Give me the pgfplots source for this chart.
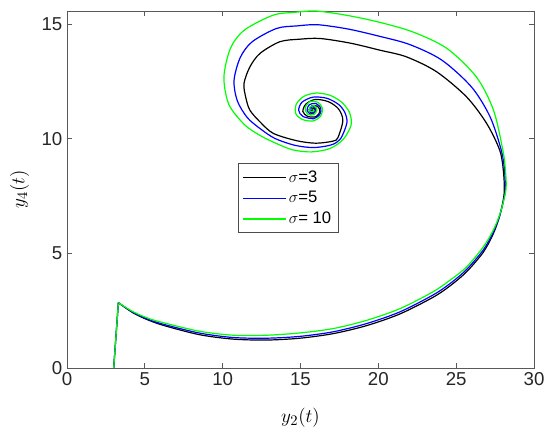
\documentclass[border=0pt]{standalone}
\usepackage{pgfplots}
\pgfplotsset{compat=1.18}
\usepackage{fontspec}
\setmainfont{Liberation Sans}
\definecolor{mgreen}{rgb}{0,1,0}
\definecolor{mblue}{rgb}{0,0,1}
\begin{document}
\begin{tikzpicture}
\begin{axis}[
  name=ax,
  scale only axis, width=350.25pt, height=267.75pt,
  xmin=0, xmax=30, ymin=0, ymax=15.58,
  xtick={0,5,10,15,20,25,30}, ytick={0,5,10,15},
  tick align=inside, major tick length=3.5pt,
  axis line style={black!65, line width=0.6pt},
  every tick/.style={black!65, line width=0.6pt},
  ticklabel style={font=\fontsize{14}{16}\selectfont, text=black!85},
  /pgf/number format/assume math mode=true,
  xlabel={$y_2(t)$}, ylabel={$y_4(t)$},
  label style={font=\fontsize{15.5}{18}\selectfont},
  x label style={at={(axis description cs:0.5,-0.14)}, anchor=center},
  y label style={at={(axis description cs:-0.1017,0.5)}, anchor=center},
  legend style={at={(0.366,0.573)}, anchor=north west, draw=black!70, line width=0.6pt,
    font=\fontsize{12.5}{15}\selectfont, row sep=1.5pt, inner xsep=3pt, inner ysep=3pt},
  legend cell align=left,
  legend image code/.code={\draw[#1] (0pt,0pt) -- (32pt,0pt);},
  every axis plot/.append style={line width=0.9pt},
]
% initial jumps
\addplot[black, forget plot] coordinates {(3.0,0) (3.3,2.85)};
\addplot[mblue, forget plot] coordinates {(3.0,0) (3.3,2.85)};
\addplot[mgreen, forget plot] coordinates {(3.0,0) (3.3,2.85)};
% black sigma=3
\addplot[black, smooth] coordinates {
(3.3,2.85) (4.26,2.4) (5.3,2.07) (6.4,1.82) (8.54,1.45) (10.68,1.26) (12.83,1.22)
(14.96,1.3) (17.1,1.5) (19.25,1.85) (21.39,2.36) (23.5,3.08) (24.6,3.58) (25.67,4.2)
(26.74,5.05) (27.38,5.85) (27.8,6.65)
(28.08,7.60) (28.04,8.55) (27.80,9.50) (26.96,10.67) (25.67,11.83) (23.74,12.93)
(21.80,13.58) (20.10,13.87) (18.18,14.18) (16.25,14.38) (14.97,14.35) (13.68,14.24)
(12.40,13.73) (11.75,13.14) (11.37,12.42) (11.48,11.82) (11.75,11.25) (12.40,10.74)
(13.25,10.24) (14.75,9.92) (15.99,9.81) (17.08,9.90) (17.40,10.05) (17.72,10.80)
(17.45,11.3) (16.8,11.62) (15.95,11.72) (15.35,11.52)
(15.15,11.2) (15.45,10.98) (16.0,10.97) (16.25,11.2) (16.1,11.42) (15.75,11.45)
(15.55,11.27) (15.72,11.12) (15.95,11.22) (15.85,11.35) (15.75,11.28)
};
\addlegendentry{$\sigma$=3}
% blue sigma=5
\addplot[mblue, smooth] coordinates {
(3.3,2.85) (4.26,2.42) (5.3,2.1) (6.4,1.87) (8.54,1.52) (10.68,1.33) (12.83,1.3)
(14.96,1.38) (17.1,1.58) (19.25,1.94) (21.39,2.45) (23.5,3.18) (24.6,3.68) (25.67,4.3)
(26.74,5.15) (27.38,5.92) (27.82,6.7)
(28.14,7.70) (28.11,8.60) (27.90,9.50) (27.18,10.96) (25.99,12.26) (24.07,13.44)
(22.00,14.12) (20.05,14.48) (18.08,14.79) (16.12,14.98) (14.79,14.93) (13.47,14.82)
(11.90,14.24) (11.13,13.55) (10.73,12.55) (10.94,11.66) (11.58,10.93) (12.40,10.45)
(13.35,10.02) (14.63,9.72) (15.85,9.62) (16.99,9.74) (17.58,10.01) (17.98,10.70)
(17.85,11.15) (17.45,11.5) (16.7,11.77) (15.8,11.82) (15.1,11.6)
(14.88,11.25) (15.15,10.98) (15.85,10.88) (16.25,11.08) (16.3,11.35) (15.95,11.55)
(15.55,11.48) (15.42,11.25) (15.65,11.08) (15.95,11.18) (15.95,11.38) (15.7,11.38)
(15.68,11.22) (15.82,11.25)
};
\addlegendentry{$\sigma$=5}
% green sigma=10
\addplot[mgreen, smooth] coordinates {
(3.3,2.85) (4.26,2.45) (5.3,2.15) (6.4,1.94) (8.54,1.6) (10.68,1.43) (12.83,1.43)
(14.96,1.53) (17.1,1.72) (19.25,2.08) (21.39,2.59) (23.5,3.32) (24.6,3.83) (25.67,4.41)
(26.74,5.28) (27.38,6.01) (27.85,6.8)
(28.20,7.80) (28.16,8.66) (28.00,9.50) (27.40,11.25) (26.30,12.70) (24.40,13.95)
(22.20,14.67) (20.00,15.10) (17.98,15.39) (15.99,15.58) (14.61,15.52) (13.25,15.40)
(11.40,14.75) (10.50,13.95) (10.08,12.69) (10.40,11.50) (11.40,10.62) (12.40,10.15)
(13.44,9.80) (14.50,9.52) (15.70,9.43) (16.90,9.58) (17.75,9.98) (18.25,10.60)
(18.15,11.15) (17.64,11.6) (16.9,11.9) (16.0,12.0) (15.2,11.85) (14.72,11.5) (14.7,11.1)
(15.1,10.85) (15.8,10.78) (16.3,11.0) (16.4,11.35) (16.1,11.6) (15.6,11.62) (15.3,11.35)
(15.45,11.08) (15.85,11.05) (16.05,11.25) (15.9,11.45) (15.6,11.38) (15.6,11.2)
(15.85,11.2) (15.8,11.3)
};
\addlegendentry{$\sigma$= 10}
\end{axis}
\pgfresetboundingbox
\path (ax.south west) ++(-50.25pt,-49.75pt) rectangle ++(412.5pt,325.75pt);
\end{tikzpicture}
\end{document}
